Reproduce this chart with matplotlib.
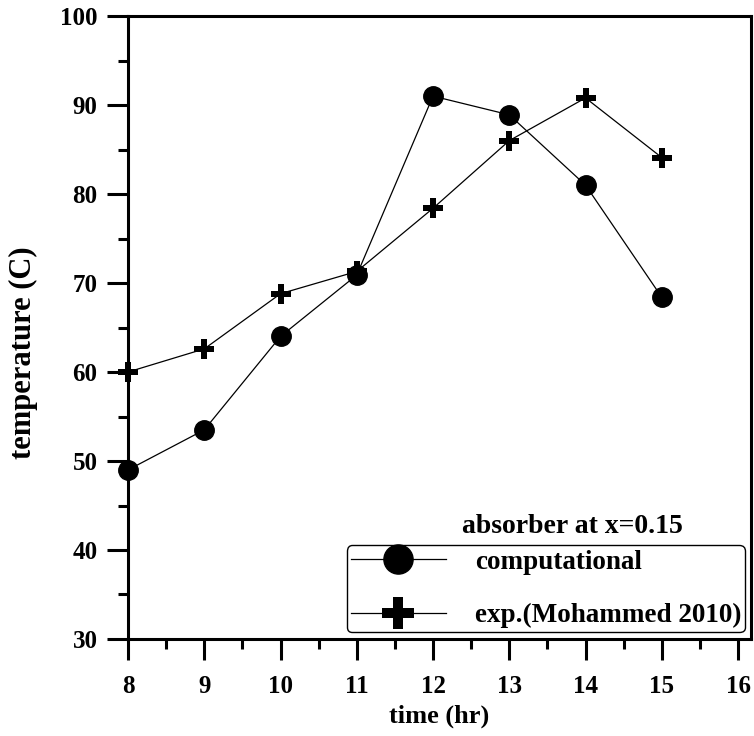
import numpy as np
import matplotlib
matplotlib.use("Agg")
import matplotlib.pyplot as plt
from matplotlib.ticker import MultipleLocator

# data
hours = [8, 9, 10, 11, 12, 13, 14, 15]
computational = [49.0, 53.5, 64.0, 70.9, 91.0, 88.9, 81.0, 68.4]
experimental = [60.0, 62.6, 68.8, 71.3, 78.4, 86.0, 90.8, 84.1]

plt.rcParams['font.family'] = ['Liberation Serif', 'DejaVu Serif']
plt.rcParams['font.weight'] = 'bold'

fig = plt.figure(figsize=(7.54, 7.36), dpi=100)
ax = fig.add_axes([0.1698, 0.1318, 0.8262, 0.8464])

ax.plot(hours, computational, color='black', lw=0.9, marker='o', ms=14,
        label='computational', clip_on=False, zorder=3)
ax.plot(hours, experimental, color='black', lw=0.9, marker='P', ms=15,
        markeredgewidth=0, label='exp.(Mohammed 2010)', clip_on=False, zorder=3)

ax.set_xlim(8, 16.17)
ax.set_ylim(30, 100)
ax.xaxis.set_major_locator(MultipleLocator(1))
ax.xaxis.set_minor_locator(MultipleLocator(0.5))
ax.yaxis.set_major_locator(MultipleLocator(10))
ax.yaxis.set_minor_locator(MultipleLocator(5))
ax.tick_params(which='both', direction='out', width=2.2, top=False, right=False)
ax.tick_params(which='major', length=15, labelsize=18)
ax.tick_params(axis='x', which='major', pad=11)
ax.tick_params(axis='y', which='major', pad=7)
ax.tick_params(which='minor', length=7)
for lbl in ax.get_xticklabels() + ax.get_yticklabels():
    lbl.set_fontweight('bold')
for s in ax.spines.values():
    s.set_linewidth(2.2)

ax.set_xlabel('time (hr)', fontsize=19, fontweight='bold', labelpad=5)
ax.set_ylabel('temperature (C)', fontsize=22, fontweight='bold')
ax.yaxis.set_label_coords(-0.145, 0.46)

ax.text(0.714, 0.18, 'absorber at x=0.15', transform=ax.transAxes,
        ha='center', va='center', fontsize=20, fontweight='bold')

leg = ax.legend(loc='lower left', bbox_to_anchor=(0.351, 0.011, 0.639, 0.14),
                mode='expand', fancybox=True, framealpha=1, edgecolor='black',
                prop={'size': 19.5, 'weight': 'bold'}, markerscale=1.5,
                handlelength=3.5, handletextpad=1.1, borderpad=0.15,
                borderaxespad=0, labelspacing=1.05, numpoints=1)
leg.get_frame().set_linewidth(1.0)

fig.savefig('out.png', dpi=100)
